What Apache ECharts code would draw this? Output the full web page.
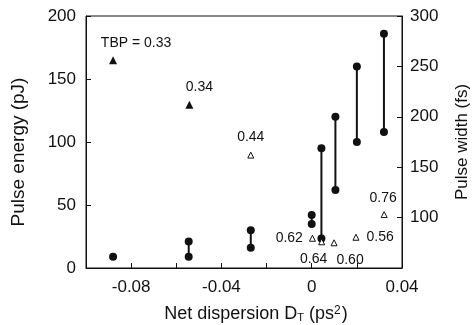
<!DOCTYPE html>
<html>
<head>
<meta charset="utf-8">
<script src="https://cdn.jsdelivr.net/npm/echarts@6/dist/echarts.min.js"></script>
<style>
  html, body { margin: 0; padding: 0; background: #fff; }
  #chart { width: 472px; height: 325px; }
</style>
</head>
<body>
<div id="chart"></div>
<script>
// net dispersion (ps^2) of each measurement
const dispersion = [-0.088, -0.0545, -0.027, 0.0, 0.0043, 0.0105, 0.020, 0.032];
// pulse energy range (pJ), circles joined by a bar
const energyLow = [9, 9, 16, 35, 23.5, 62, 100, 108];
const energyHigh = [9, 21, 30, 42, 95, 120, 160, 186];

// pulse width (fs) with time-bandwidth products
const triDispersion = [-0.088, -0.0542, -0.027, 0.0003, 0.0044, 0.0099, 0.0196, 0.0321];
const pulseWidth = [256, 212, 162, 79.5, 76, 75, 80.5, 103];
const tbpLabels = ["TBP = 0.33", "0.34", "0.44", "0.62", "0.64", "0.60", "0.56", "0.76"];
const tbpFilled = [true, true, false, false, false, false, false, false];

const xTickLabels = ["-0.08", "-0.04", "0", "0.04"];

// label placement for each triangle
const labelPlace = [
  { position: "top", offset: [23, -1] },
  { position: "top", offset: [10, -2] },
  { position: "top", offset: [0, -2] },
  { position: "left", offset: [-1, 0] },
  { position: "bottom", offset: [-8, 2] },
  { position: "bottom", offset: [16, 2] },
  { position: "right", offset: [2, 0] },
  { position: "top", offset: [-1, -1] }
];

const ink = "#111";
const font = "'Liberation Sans', Arial, sans-serif";

const chart = echarts.init(document.getElementById("chart"));

const pairSeries = [];
dispersion.forEach((x, i) => {
  if (energyHigh[i] === energyLow[i]) return;
  pairSeries.push({
    type: "line",
    xAxisIndex: 0,
    yAxisIndex: 0,
    symbol: "none",
    silent: true,
    lineStyle: { color: ink, width: 2 },
    data: [[x, energyLow[i]], [x, energyHigh[i]]]
  });
});

const circleData = [];
dispersion.forEach((x, i) => {
  circleData.push([x, energyLow[i]]);
  if (energyHigh[i] !== energyLow[i]) circleData.push([x, energyHigh[i]]);
});

const triData = (filled) => triDispersion.map((x, i) => {
  if (tbpFilled[i] !== filled) return null;
  return {
    value: [x, pulseWidth[i]],
    label: {
      show: true,
      formatter: tbpLabels[i],
      position: labelPlace[i].position,
      offset: labelPlace[i].offset,
      color: ink,
      fontFamily: font,
      fontSize: 14
    }
  };
}).filter(d => d);

const option = {
  animation: false,
  grid: {
    left: 86, right: 70, top: 16, bottom: 57,
    outerBoundsMode: "none",
    containLabel: false,
    show: true, borderColor: ink, borderWidth: 1, backgroundColor: "transparent"
  },
  xAxis: {
    type: "value",
    min: -0.1,
    max: 0.04,
    interval: 0.02,
    name: "Net dispersion D{sub|T} (ps{sup|2})",
    nameLocation: "middle",
    nameGap: 37,
    nameTextStyle: {
      color: ink, fontFamily: font, fontSize: 18, padding: [0, 0, 0, 24],
      rich: {
        sub: { fontFamily: font, fontSize: 11, color: ink, verticalAlign: "bottom", lineHeight: 11 },
        sup: { fontFamily: font, fontSize: 12, color: ink, verticalAlign: "top", lineHeight: 12, padding: [0, 1, 6, 0] }
      }
    },
    axisLine: { onZero: false, lineStyle: { color: ink, width: 1 } },
    axisTick: { inside: true, length: 5, lineStyle: { color: ink } },
    splitLine: { show: false },
    axisLabel: {
      color: ink, fontFamily: font, fontSize: 17, margin: 11,
      showMinLabel: false,
      formatter: (v) => {
        const s = Math.abs(v) < 1e-9 ? "0" : v.toFixed(2);
        return xTickLabels.includes(s) ? s : "";
      }
    }
  },
  yAxis: [
    {
      type: "value",
      min: 0,
      max: 200,
      interval: 50,
      name: "Pulse energy (pJ)",
      nameLocation: "middle",
      nameGap: 58,
      nameTextStyle: { color: ink, fontFamily: font, fontSize: 19, padding: [0, 20, 0, 0] },
      axisLine: { show: true, onZero: false, lineStyle: { color: ink } },
      axisTick: { show: true, inside: true, length: 5, lineStyle: { color: ink } },
      splitLine: { show: false },
      axisLabel: { color: ink, fontFamily: font, fontSize: 17, margin: 10 }
    },
    {
      type: "value",
      position: "right",
      min: 50,
      max: 300,
      interval: 50,
      name: "Pulse width (fs)",
      nameLocation: "middle",
      nameGap: 52,
      nameRotate: 90,
      nameTextStyle: { color: ink, fontFamily: font, fontSize: 17 },
      axisLine: { show: true, onZero: false, lineStyle: { color: ink } },
      axisTick: { show: true, inside: true, length: 5, lineStyle: { color: ink } },
      splitLine: { show: false },
      axisLabel: { color: ink, fontFamily: font, fontSize: 17, margin: 8, showMinLabel: false }
    }
  ],
  series: [
    ...pairSeries,
    {
      type: "scatter",
      yAxisIndex: 0,
      symbol: "circle",
      symbolSize: 8,
      itemStyle: { color: ink, opacity: 1 },
      data: circleData
    },
    {
      type: "scatter",
      yAxisIndex: 1,
      symbol: "triangle",
      symbolSize: 8,
      itemStyle: { color: ink, opacity: 1 },
      data: triData(true)
    },
    {
      type: "scatter",
      yAxisIndex: 1,
      symbol: "triangle",
      symbolSize: 6,
      itemStyle: { color: "#fff", borderColor: ink, borderWidth: 1, opacity: 1 },
      data: triData(false)
    }
  ]
};

chart.setOption(option);
</script>
</body>
</html>
